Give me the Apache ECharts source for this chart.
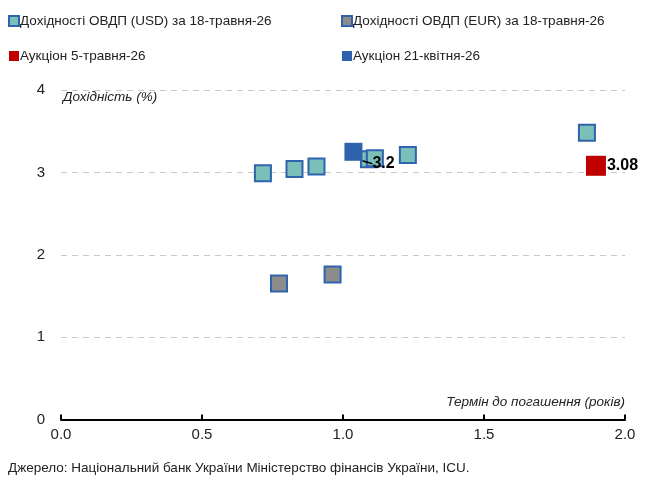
<!DOCTYPE html>
<html><head><meta charset="utf-8">
<script src="https://cdn.jsdelivr.net/npm/echarts@6/dist/echarts.min.js"></script>
<style>html,body{margin:0;padding:0;background:#fff}#c{width:658px;height:481px}</style>
</head><body><div id="c"></div>
<script>
const seriesNames = ['Дохідності ОВДП (USD) за 18-травня-26','Дохідності ОВДП (EUR) за 18-травня-26','Аукціон 5-травня-26','Аукціон 21-квітня-26'];
const usdTerm = [0.716, 0.828, 0.906, 1.092, 1.113, 1.230, 1.865];
const usdYield = [2.99, 3.04, 3.07, 3.16, 3.17, 3.21, 3.48];
const eurTerm = [0.773, 0.963];
const eurYield = [1.65, 1.76];
const may5Term = [1.897];
const may5Yield = [3.08];
const may5Labels = ['3.08'];
const apr21Term = [1.037];
const apr21Yield = [3.25];
const apr21Labels = ['3.2'];
const xTicks = ['0.0','0.5','1.0','1.5','2.0'];
const yTicks = ['0','1','2','3','4'];
const sourceText = 'Джерело: Національний банк України Міністерство фінансів України, ICU.';
const FONT = '"Liberation Sans", Arial, sans-serif';

const zip = (a,b)=>a.map((v,i)=>[v,b[i]]);
const chart = echarts.init(document.getElementById('c'), null, {renderer:'canvas'});
chart.setOption({
  animation:false,
  textStyle:{fontFamily:FONT},
  title:{text:sourceText, left:3, bottom:1, textStyle:{fontFamily:FONT,fontSize:13.5,fontWeight:'normal',color:'#222'}},
  legend:[
    {data:[seriesNames[0],seriesNames[2]], orient:'vertical', left:3, top:9, itemGap:21, itemWidth:10, itemHeight:10, icon:'rect',
     textStyle:{fontFamily:FONT,fontSize:13.5,color:'#222',padding:[0,0,0,-4]}},
    {data:[seriesNames[1],seriesNames[3]], orient:'vertical', left:336, top:9, itemGap:21, itemWidth:10, itemHeight:10, icon:'rect',
     textStyle:{fontFamily:FONT,fontSize:13.5,color:'#222',padding:[0,0,0,-4]}}
  ],
  grid:{left:61, right:33, top:90, bottom:61.5, containLabel:false},
  xAxis:{type:'value', min:0, max:2, interval:0.5,
    name:'Термін до погашення (рокiв)', nameLocation:'end', nameGap:0,
    nameTextStyle:{fontFamily:FONT,fontSize:13.5,fontStyle:'italic',color:'#222',align:'right',verticalAlign:'bottom',padding:[0,0,10,0]},
    axisLine:{show:true,lineStyle:{color:'#000',width:2}},
    axisTick:{show:true,inside:true,length:5,lineStyle:{color:'#000',width:2}},
    axisLabel:{fontFamily:FONT,fontSize:15,color:'#222',margin:8,formatter:(v)=>xTicks[Math.round(v/0.5)]},
    splitLine:{show:false}},
  yAxis:{type:'value', min:0, max:4, interval:1,
    name:'Дохідність (%)', nameLocation:'end', nameGap:0,
    nameTextStyle:{fontFamily:FONT,fontSize:13.5,fontStyle:'italic',color:'#222',align:'left',verticalAlign:'top',padding:[0,0,0,2]},
    axisLine:{show:false}, axisTick:{show:false},
    axisLabel:{fontFamily:FONT,fontSize:15,color:'#222',margin:16,formatter:(v)=>yTicks[v]},
    splitLine:{show:true,lineStyle:{color:'#c8c8c8',type:[6,5],width:1}}},
  series:[
    {name:seriesNames[0], type:'scatter', symbol:'rect', symbolSize:16, data:zip(usdTerm,usdYield),
     itemStyle:{color:'#7bbfb9',borderColor:'#2f63ad',borderWidth:2,opacity:1}, z:3},
    {name:seriesNames[1], type:'scatter', symbol:'rect', symbolSize:16, data:zip(eurTerm,eurYield),
     itemStyle:{color:'#8c8c8c',borderColor:'#2f63ad',borderWidth:2,opacity:1}, z:3},
    {name:seriesNames[2], type:'scatter', symbol:'rect', symbolSize:20, data:zip(may5Term,may5Yield),
     itemStyle:{color:'#c00000',opacity:1}, z:4,
     label:{show:true, position:'right', distance:1, formatter:(p)=>may5Labels[p.dataIndex],
       fontFamily:FONT, fontSize:16, fontWeight:'bold', color:'#000'}},
    {name:seriesNames[3], type:'scatter', symbol:'rect', symbolSize:18, data:zip(apr21Term,apr21Yield),
     itemStyle:{color:'#2f63ad',opacity:1}, z:5,
     label:{show:true, position:'right', distance:2, formatter:(p)=>apr21Labels[p.dataIndex],
       fontFamily:FONT, fontSize:16, fontWeight:'bold', color:'#000'},
     labelLayout:{dx:8, dy:12},
     labelLine:{show:true, lineStyle:{color:'#000',width:1.5}}}
  ]
});
</script></body></html>
